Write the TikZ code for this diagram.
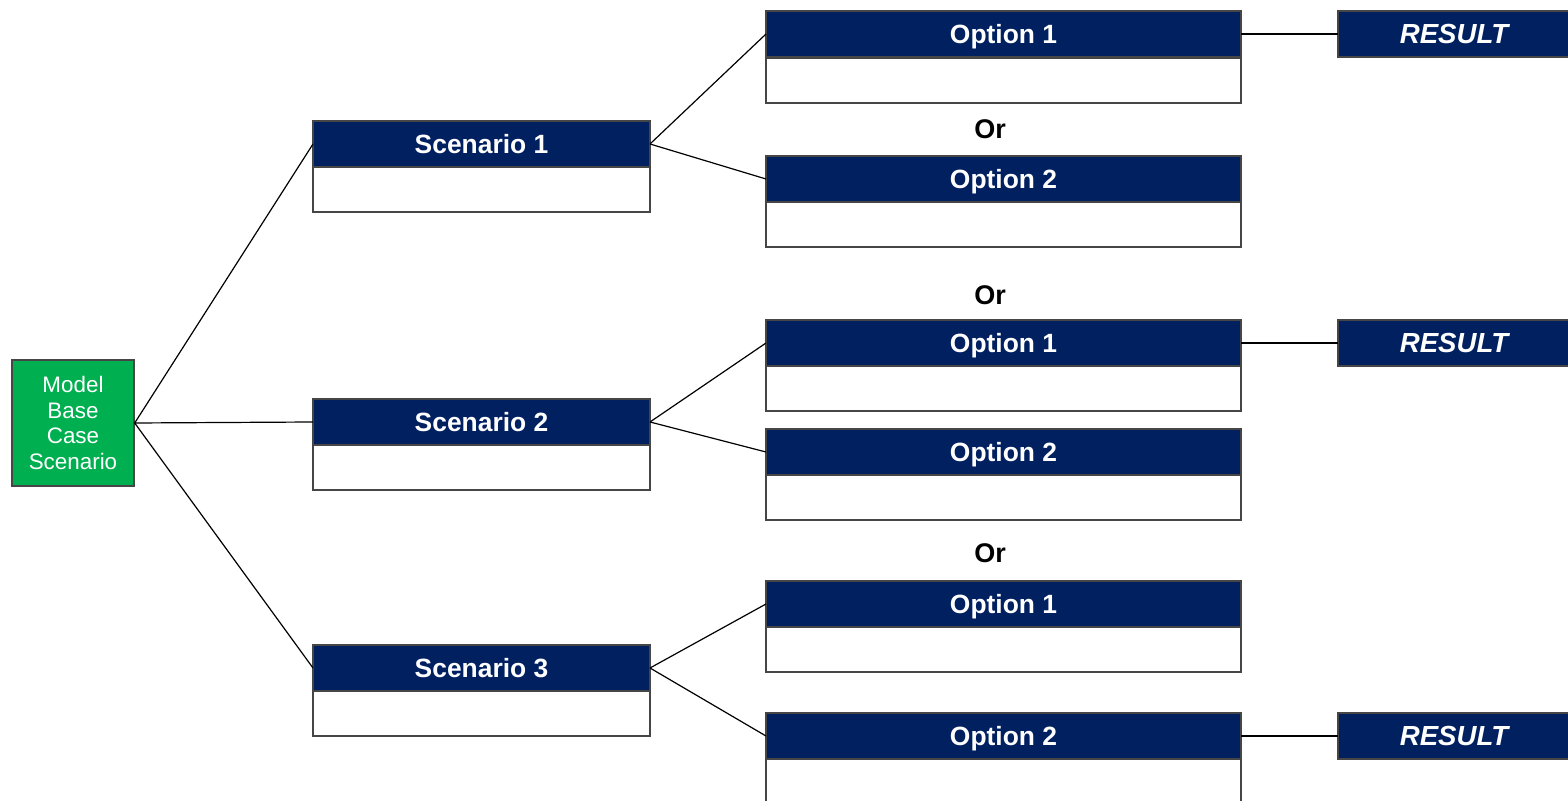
\documentclass[tikz,border=0pt]{standalone}
\usepackage{fontspec}
\setmainfont{Liberation Sans}
\definecolor{navy}{RGB}{0,32,96}
\definecolor{boxgreen}{RGB}{0,176,80}
\definecolor{rim}{RGB}{70,70,70}
\tikzset{
  hdr/.style={draw=rim, line width=0.7pt, fill=navy, text=white, anchor=north west,
    inner sep=0pt, outer sep=0pt, minimum height=23pt,
    text height=9.5pt, text depth=0pt,
    font=\fontsize{13.2pt}{15pt}\selectfont\bfseries},
  scn/.style={hdr, minimum width=168.5pt},
  opt/.style={hdr, minimum width=237.5pt},
  res/.style={hdr, minimum width=120pt,
    font=\fontsize{13.8pt}{15pt}\selectfont\bfseries\itshape},
  body/.style={draw=rim, line width=0.7pt, fill=white, anchor=north west,
    inner sep=0pt, outer sep=0pt, minimum height=22.5pt},
  sbody/.style={body, minimum width=168.5pt},
  obody/.style={body, minimum width=237.5pt},
  link/.style={draw=black, line width=0.6pt},
  orlabel/.style={font=\fontsize{13.5pt}{16pt}\selectfont\bfseries, inner sep=0pt},
}
\begin{document}
\begin{tikzpicture}[x=0.5pt,y=-0.5pt]
\useasboundingbox (0,0) rectangle (1568,801);
\clip (0,0) rectangle (1568,801);

% root
\node[draw=rim, line width=0.7pt, fill=boxgreen, text=white, inner sep=0pt,
  minimum width=61pt, minimum height=63pt, align=center,
  font=\fontsize{11.2pt}{12.8pt}\selectfont] (root) at (73,423)
  {Model\\Base\\Case\\Scenario};

% scenarios
\node[scn] (s1) at (313,121) {Scenario 1};
\node[sbody] (s1b) at (s1.south west) {};
\node[scn] (s2) at (313,399) {Scenario 2};
\node[sbody] (s2b) at (s2.south west) {};
\node[scn] (s3) at (313,645) {Scenario 3};
\node[sbody] (s3b) at (s3.south west) {};

% options
\node[opt] (o11) at (766,11) {Option 1};
\node[obody] (o11b) at (766,58) {};
\node[opt] (o12) at (766,156) {Option 2};
\node[obody] (o12b) at (o12.south west) {};
\node[opt] (o21) at (766,320) {Option 1};
\node[obody] (o21b) at (o21.south west) {};
\node[opt] (o22) at (766,429) {Option 2};
\node[obody] (o22b) at (o22.south west) {};
\node[opt] (o31) at (766,581) {Option 1};
\node[obody] (o31b) at (o31.south west) {};
\node[opt] (o32) at (766,713) {Option 2};
\node[obody] (o32b) at (o32.south west) {};

% results
\node[res] (r1) at (1338,11) {\hspace*{-4pt}RESULT};
\node[res] (r2) at (1338,320) {\hspace*{-4pt}RESULT};
\node[res] (r3) at (1338,713) {\hspace*{-4pt}RESULT};

% "Or" separators
\node[orlabel] (or1) at (990,129) {Or};
\node[orlabel] (or2) at (990,295) {Or};
\node[orlabel] (or3) at (990,553) {Or};

% connectors
\draw[link] (root.east) -- (s1.west);
\draw[link] (root.east) -- (s2.west);
\draw[link] (root.east) -- (s3.west);
\draw[link] (s1.east) -- (o11.west);
\draw[link] (s1.east) -- (o12.west);
\draw[link] (s2.east) -- (o21.west);
\draw[link] (s2.east) -- (o22.west);
\draw[link] (s3.east) -- (o31.west);
\draw[link] (s3.east) -- (o32.west);
\draw[link] (o11.east) -- (r1.west);
\draw[link] (o21.east) -- (r2.west);
\draw[link] (o32.east) -- (r3.west);
\end{tikzpicture}
\end{document}
